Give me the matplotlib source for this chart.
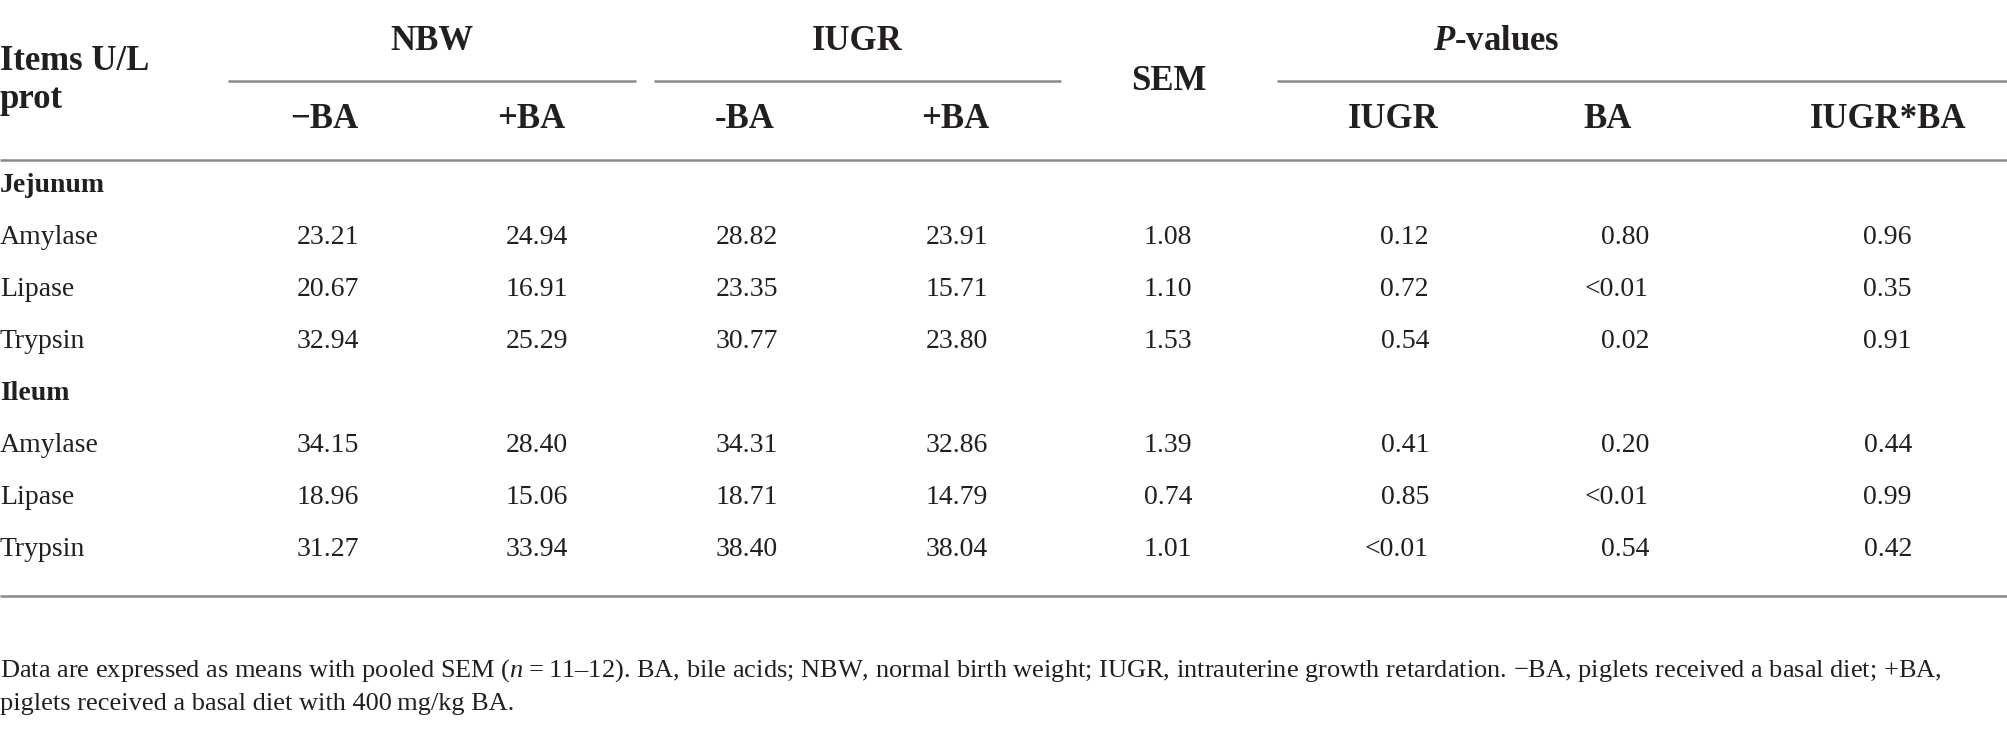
import matplotlib
matplotlib.use("Agg")
import matplotlib.pyplot as plt

# table content
groups = ["NBW", "IUGR"]
sub_headers = ["\u2212BA", "+BA", "-BA", "+BA"]
p_headers = ["IUGR", "BA", "IUGR*BA"]
sections = ["Jejunum", "Ileum"]
items = ["Amylase", "Lipase", "Trypsin"]

jejunum_means = [
    ["23.21", "24.94", "28.82", "23.91"],
    ["20.67", "16.91", "23.35", "15.71"],
    ["32.94", "25.29", "30.77", "23.80"],
]
jejunum_sem = ["1.08", "1.10", "1.53"]
jejunum_p = [
    ["0.12", "0.80", "0.96"],
    ["0.72", "<0.01", "0.35"],
    ["0.54", "0.02", "0.91"],
]
ileum_means = [
    ["34.15", "28.40", "34.31", "32.86"],
    ["18.96", "15.06", "18.71", "14.79"],
    ["31.27", "33.94", "38.40", "38.04"],
]
ileum_sem = ["1.39", "0.74", "1.01"]
ileum_p = [
    ["0.41", "0.20", "0.44"],
    ["0.85", "<0.01", "0.99"],
    ["<0.01", "0.54", "0.42"],
]

footnote = [
    "Data are expressed as means with pooled SEM ($\\it{n}$\u2009=\u200911\u201312). BA, bile acids; NBW, normal birth weight; "
    "IUGR, intrauterine growth retardation. \u2212BA, piglets received a basal diet; +BA,",
    "piglets received a basal diet with 400\u2009mg/kg BA.",
]

plt.rcParams["font.family"] = ["Liberation Serif", "DejaVu Serif"]
plt.rcParams["mathtext.fontset"] = "custom"
plt.rcParams["mathtext.rm"] = "Liberation Serif"
plt.rcParams["mathtext.it"] = "Liberation Serif:italic"
plt.rcParams["mathtext.bf"] = "Liberation Serif:bold"
plt.rcParams["mathtext.bfit"] = "Liberation Serif:bold:italic"

W, H = 2008, 736
fig = plt.figure(figsize=(W / 100, H / 100), dpi=100)
ax = fig.add_axes([0, 0, 1, 1])
ax.set_xlim(0, W)
ax.set_ylim(H, 0)
ax.axis("off")

tc = "#231f20"
lc = "#8a8a8a"
fs = 20      # body
hfs = 25     # header
nfs = 19     # footnote

# header
ax.text(0, 61, "Items U/L", fontsize=hfs, fontweight="bold", color=tc, va="center", ha="left")
ax.text(0, 100, "prot", fontsize=hfs, fontweight="bold", color=tc, va="center", ha="left")
group_spans = [(228, 636), (654, 1061)]
for g, (x0, x1) in zip(groups, group_spans):
    ax.text((x0 + x1) / 2, 41, g, fontsize=hfs, fontweight="bold", color=tc, ha="center", va="center")
    ax.hlines(81, x0, x1, color=lc, lw=1.8)
ax.text(1169, 81, "SEM", fontsize=hfs, fontweight="bold", color=tc, ha="center", va="center")
ax.text(1496, 41, r"$\mathbfit{P}$-values", fontsize=hfs, fontweight="bold", color=tc, ha="center", va="center")
ax.hlines(81, 1277, W, color=lc, lw=1.8)

sub_x = [324, 531, 745, 955]
for s, x in zip(sub_headers, sub_x):
    ax.text(x, 119, s, fontsize=hfs, fontweight="bold", color=tc, ha="center", va="center")
p_x = [1393, 1608, 1888]
for s, x in zip(p_headers, p_x):
    ax.text(x, 119, s, fontsize=hfs, fontweight="bold", color=tc, ha="center", va="center")

ax.hlines(160, 0, W, color=lc, lw=1.8)

# body
mean_right = [359, 568, 778, 988]
sem_right = 1192
p_right = [1429, 1649, 1912]
section_y = [186, 394]
row_step = 52
blocks = [(jejunum_means, jejunum_sem, jejunum_p), (ileum_means, ileum_sem, ileum_p)]
for sec, sy, (means, sem, pv) in zip(sections, section_y, blocks):
    ax.text(0, sy, sec, fontsize=fs, fontweight="bold", color=tc, ha="left", va="center")
    for i, item in enumerate(items):
        y = sy + row_step * (i + 1)
        ax.text(0, y, item, fontsize=fs, color=tc, ha="left", va="center")
        for v, x in zip(means[i], mean_right):
            ax.text(x, y, v, fontsize=fs, color=tc, ha="right", va="center")
        ax.text(sem_right, y, sem[i], fontsize=fs, color=tc, ha="right", va="center")
        for v, x in zip(pv[i], p_right):
            ax.text(x, y, v, fontsize=fs, color=tc, ha="right", va="center")

ax.hlines(596, 0, W, color=lc, lw=1.8)

for line, y in zip(footnote, [671, 704]):
    ax.text(0, y, line, fontsize=nfs, color=tc, ha="left", va="center")

fig.savefig("out.png", dpi=100, facecolor="white")
